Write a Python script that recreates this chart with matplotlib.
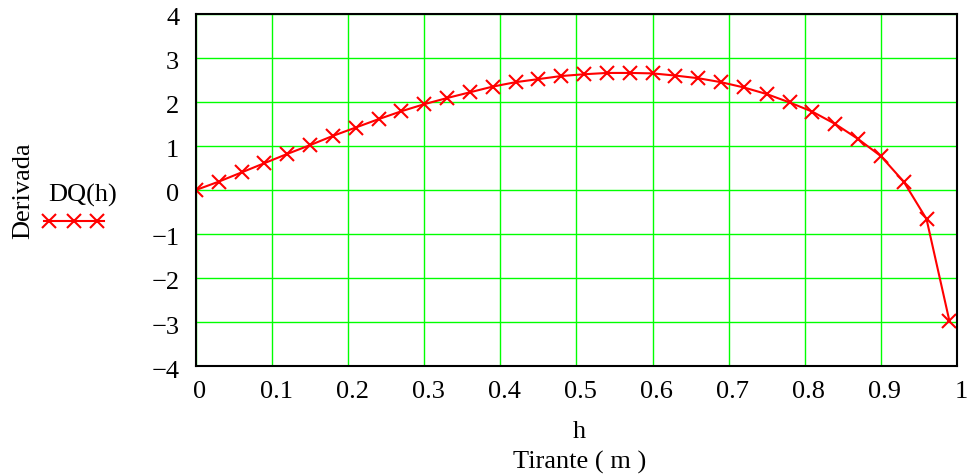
import numpy as np
import matplotlib.pyplot as plt
from matplotlib.transforms import ScaledTranslation

# Data
h = [round(0.03 * k, 2) for k in range(34)]
dq = [0.00, 0.19, 0.40, 0.61, 0.82, 1.02, 1.23, 1.42, 1.61, 1.79,
      1.95, 2.09, 2.22, 2.35, 2.45, 2.52, 2.59, 2.63, 2.66, 2.66,
      2.65, 2.60, 2.54, 2.45, 2.33, 2.18, 1.99, 1.78, 1.50, 1.16,
      0.77, 0.19, -0.66, -2.97]
xticks = [0, 0.1, 0.2, 0.3, 0.4, 0.5, 0.6, 0.7, 0.8, 0.9, 1]
xlabels = ["0", "0.1", "0.2", "0.3", "0.4", "0.5", "0.6", "0.7", "0.8", "0.9", "1"]
yticks = [-4, -3, -2, -1, 0, 1, 2, 3, 4]

plt.rcParams['font.family'] = ['Liberation Serif', 'DejaVu Serif']

fig = plt.figure(figsize=(9.74, 4.77), dpi=100)
ax = fig.add_axes([0.2012, 0.2306, 0.7813, 0.738])

ax.plot(h, dq, color='red', lw=1.5, marker='x', ms=10, mew=1.5)

ax.set_xlim(0, 1)
ax.set_ylim(-4, 4)
ax.set_xticks(xticks)
ax.set_xticklabels(xlabels)
ax.set_yticks(yticks)
ax.set_yticklabels([str(v).replace('-', '\u2212') for v in yticks])
ax.tick_params(axis='x', length=0, labelsize=19, pad=10)
ax.tick_params(axis='y', length=0, labelsize=19, pad=12)
ax.grid(True, color='#00ff00', lw=1)
ax.set_axisbelow(True)
for s in ax.spines.values():
    s.set_linewidth(1.5)
    s.set_color('black')

# small shifts of the tick labels, as in the reference
dx = ScaledTranslation(4 / 100, 0, fig.dpi_scale_trans)
dy = ScaledTranslation(0, -2 / 100, fig.dpi_scale_trans)
for lab in ax.get_xticklabels():
    lab.set_transform(lab.get_transform() + dx)
for lab in ax.get_yticklabels():
    lab.set_transform(lab.get_transform() + dy)

fig.text(0.595, 0.094, "h", ha='center', va='center', fontsize=19)
fig.text(0.595, 0.031, "Tirante ( m )", ha='center', va='center', fontsize=19)
fig.text(0.024, 0.6, "Derivada", ha='center', va='center', rotation=90, fontsize=19)
fig.text(0.049, 0.591, "DQ(h)", ha='left', va='center', fontsize=19)

# legend sample
fig.lines.append(plt.Line2D([0.045, 0.107], [0.535, 0.535], transform=fig.transFigure,
                            color='red', lw=1.5))
fig.lines.append(plt.Line2D([0.0505, 0.0755, 0.0995], [0.535] * 3, transform=fig.transFigure,
                            color='red', marker='x', ms=10, mew=1.5, ls='none'))

fig.savefig("out.png", dpi=100)
